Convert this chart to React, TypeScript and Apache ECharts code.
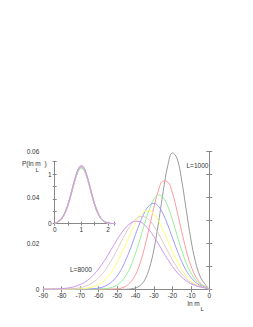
import React, { useEffect, useRef } from "react";
import * as echarts from "echarts";

// ln m grid (x values)
const lnM: number[] = [
  -90, -87.5, -85, -82.5, -80, -77.5, -75, -72.5, -70, -67.5, -65, -62.5, -60,
  -57.5, -55, -52.5, -50, -47.5, -45, -42.5, -40, -37.5, -35, -32.5, -30, -27.5,
  -25, -22.5, -20, -17.5, -15, -12.5, -10, -7.5, -5, -2.5, 0,
];

const pL1000: number[] = [
  0, 0, 0, 0, 0, 0, 0, 0, 0, 0, 0, 0, 0, 0, 0, 0, 0, 0,
  0, 0.0002, 0.0006, 0.0016, 0.0041, 0.0091, 0.0175, 0.0293, 0.0426, 0.054,
  0.0595, 0.0571, 0.0476, 0.0346, 0.0218, 0.012, 0.0057, 0.0024, 0,
];
const pL2000: number[] = [
  0, 0, 0, 0, 0, 0, 0, 0, 0, 0, 0, 0, 0, 0,
  0, 0.0001, 0.0002, 0.0006, 0.0015, 0.0033, 0.0064, 0.0114, 0.0185, 0.0271,
  0.0359, 0.0433, 0.0472, 0.0468, 0.042, 0.0342, 0.0253, 0.017, 0.0103, 0.0057,
  0.0028, 0.0013, 0,
];
const pL3000: number[] = [
  0, 0, 0, 0, 0, 0, 0, 0, 0, 0, 0, 0,
  0.0001, 0.0002, 0.0004, 0.0009, 0.0019, 0.0036, 0.0063, 0.0103, 0.0157, 0.022,
  0.0288, 0.0349, 0.0393, 0.0412, 0.04, 0.0362, 0.0303, 0.0236, 0.0171, 0.0115,
  0.0072, 0.0042, 0.0022, 0.0011, 0,
];
const pL4000: number[] = [
  0, 0, 0, 0, 0, 0, 0, 0, 0, 0,
  0.0001, 0.0003, 0.0005, 0.0011, 0.002, 0.0035, 0.0058, 0.009, 0.0133, 0.0183,
  0.0239, 0.0292, 0.0337, 0.0366, 0.0375, 0.0361, 0.0328, 0.028, 0.0225, 0.0171,
  0.0122, 0.0082, 0.0052, 0.0031, 0.0017, 0.0009, 0,
];
const pL5000: number[] = [
  0, 0, 0, 0, 0, 0, 0,
  0.0001, 0.0002, 0.0003, 0.0007, 0.0012, 0.0021, 0.0035, 0.0054, 0.0081, 0.0116,
  0.0157, 0.0202, 0.0248, 0.029, 0.0322, 0.034, 0.0342, 0.0327, 0.0297, 0.0257,
  0.0212, 0.0166, 0.0124, 0.0088, 0.0059, 0.0038, 0.0023, 0.0013, 0.0007, 0,
];
const pL6000: number[] = [
  0, 0, 0, 0,
  0.0001, 0.0001, 0.0002, 0.0004, 0.0007, 0.0013, 0.0021, 0.0033, 0.005, 0.0072,
  0.0101, 0.0135, 0.0172, 0.0212, 0.0249, 0.0282, 0.0305, 0.0317, 0.0316, 0.0301,
  0.0276, 0.0242, 0.0204, 0.0165, 0.0128, 0.0095, 0.0067, 0.0046, 0.003, 0.0019,
  0.0011, 0.0007, 0,
];
const pL8000: number[] = [
  0, 0, 0.0001, 0.0001, 0.0003, 0.0005, 0.0008, 0.0013, 0.0021, 0.0031,
  0.0046, 0.0065, 0.0089, 0.0117, 0.0149, 0.0183, 0.0217, 0.0247, 0.0272, 0.0289,
  0.0297, 0.0294, 0.028, 0.0258, 0.0229, 0.0197, 0.0162, 0.013, 0.01, 0.0074,
  0.0053, 0.0037, 0.0024, 0.0016, 0.001, 0.0006, 0,
];

// peak positions <ln m> of each curve, used for the collapsed inset
const meanLnM: number[] = [-19.5, -24, -27.2, -30.3, -33.5, -36.5, -39.5];

const curves = [pL1000, pL2000, pL3000, pL4000, pL5000, pL6000, pL8000];
const colors = ["#9a9a9a", "#ff9a9a", "#96ee96", "#9a9aff", "#ffff70", "#dcc6c6", "#cc96f0"];

const mainYTicks = ["0", "0.02", "0.04", "0.06"];
const insetXTicks = ["0", "1", "2"];
const insetYTicks = ["0", "1"];

const FONT = "Liberation Sans";
const TXT = "#333";
const AX = "#888";

export default function App() {
  const ref = useRef<HTMLDivElement>(null);
  useEffect(() => {
    if (!ref.current) return;
    const chart = echarts.init(ref.current, null, { renderer: "svg" });

    const mainSeries = curves.map((c, i) => ({
      type: "line",
      xAxisIndex: 0,
      yAxisIndex: 0,
      data: lnM.map((x, k) => [x, c[k]]),
      showSymbol: false,
      smooth: 0.4,
      lineStyle: { color: colors[i], width: 1 },
      silent: true,
    }));
    const insetSeries = curves.map((c, i) => {
      const m = Math.abs(meanLnM[i]);
      return {
        type: "line",
        xAxisIndex: 2,
        yAxisIndex: 2,
        data: lnM.map((x, k) => [x / meanLnM[i], c[k] * m]).filter((p) => p[0] <= 2.6).reverse(),
        showSymbol: false,
        smooth: 0.4,
        lineStyle: { color: colors[i], width: 1 },
        silent: true,
      };
    });

    const lbl = { fontSize: 6.5, color: TXT, fontFamily: FONT };
    const baseAxis = (extra: any) => ({
      type: "value",
      axisLine: { show: true, lineStyle: { color: AX, width: 1 } },
      splitLine: { show: false },
      ...extra,
    });

    chart.setOption({
      animation: false,
      backgroundColor: "#fff",
      grid: [
        { left: 43.3, top: 151.7, width: 166, height: 137.6 },
        { left: 54.7, top: 161.7, width: 60, height: 62 },
      ],
      xAxis: [
        baseAxis({
          gridIndex: 0, position: "bottom", min: -90, max: 0, interval: 10,
          axisTick: { inside: true, length: 3, lineStyle: { color: AX } },
          axisLabel: { ...lbl, margin: 3 },
        }),
        baseAxis({
          gridIndex: 0, position: "top", min: -90, max: 0, interval: 10,
          axisTick: { inside: true, length: 3, lineStyle: { color: AX } },
          axisLabel: { show: false },
        }),
        baseAxis({
          gridIndex: 1, position: "bottom", min: 0, max: 2.25, interval: 0.5,
          axisTick: { inside: true, length: 2, lineStyle: { color: AX } },
          axisLabel: {
            ...lbl, margin: 2,
            formatter: (v: number) => (Number.isInteger(v) ? insetXTicks[v] ?? "" : ""),
          },
        }),
        baseAxis({
          gridIndex: 1, position: "top", min: 0, max: 2.25, interval: 0.5,
          axisTick: { inside: true, length: 2, lineStyle: { color: AX } },
          axisLabel: { show: false },
        }),
      ],
      yAxis: [
        baseAxis({
          gridIndex: 0, position: "left", min: 0, max: 0.06, interval: 0.01,
          axisTick: { inside: true, length: 3, lineStyle: { color: AX } },
          axisLabel: {
            ...lbl, margin: 4,
            formatter: (v: number) => {
              const k = Math.round(v * 100);
              return k % 2 === 0 ? mainYTicks[k / 2] ?? "" : "";
            },
          },
        }),
        baseAxis({
          gridIndex: 0, position: "right", min: 0, max: 0.06, interval: 0.01,
          axisTick: { inside: true, length: 3, lineStyle: { color: AX } },
          axisLabel: { show: false },
        }),
        baseAxis({
          gridIndex: 1, position: "left", min: 0, max: 1.25, interval: 0.25,
          axisTick: { inside: true, length: 2, lineStyle: { color: AX } },
          axisLabel: {
            ...lbl, margin: 3,
            formatter: (v: number) => (Number.isInteger(v) ? insetYTicks[v] ?? "" : ""),
          },
        }),
        baseAxis({
          gridIndex: 1, position: "right", min: 0, max: 1.25, interval: 0.25,
          axisTick: { inside: true, length: 2, lineStyle: { color: AX } },
          axisLabel: { show: false },
        }),
      ],
      series: [...mainSeries, ...insetSeries],
      graphic: [
        { type: "text", left: 22, top: 160, style: { text: "P(ln m  )", fontSize: 6.5, fill: TXT, fontFamily: FONT } },
        { type: "text", left: 35.5, top: 167, style: { text: "L", fontSize: 6, fill: TXT, fontFamily: FONT } },
        { type: "text", left: 186.5, top: 162, style: { text: "L=1000", fontSize: 6.5, fill: TXT, fontFamily: FONT } },
        { type: "text", left: 70, top: 265.5, style: { text: "L=8000", fontSize: 6.5, fill: TXT, fontFamily: FONT } },
        { type: "text", left: 187.5, top: 300, style: { text: "ln m", fontSize: 6.5, fill: TXT, fontFamily: FONT } },
        { type: "text", left: 200.5, top: 306, style: { text: "L", fontSize: 6, fill: TXT, fontFamily: FONT } },
      ],
    });
    return () => chart.dispose();
  }, []);
  return (
    <div
      ref={ref}
      style={{ position: "absolute", left: 0, top: 0, width: 253, height: 327, background: "#fff" }}
    />
  );
}
